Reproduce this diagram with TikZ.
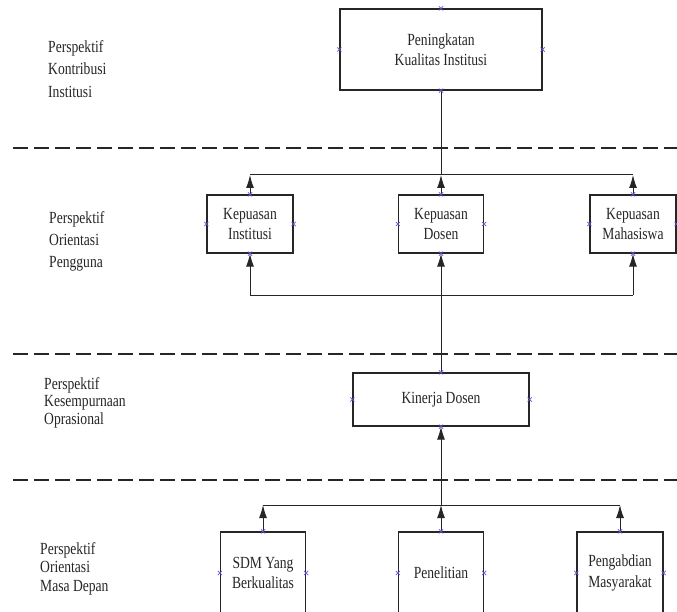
\documentclass[tikz,border=0pt]{standalone}
\usepackage{fontspec}
\newfontfamily\diafont[FakeStretch=0.8]{Liberation Serif}
\usetikzlibrary{arrows.meta,shapes.misc}
\definecolor{txt}{HTML}{262626}
\definecolor{cp}{HTML}{5A5AD8}
\newcommand\cpmarks[1]{%
  \foreach \a in {north,south,east,west}{\node[cpt] at (#1.\a) {};}}
\begin{document}
\begin{tikzpicture}[x=1pt,y=-1pt,
  every node/.style={text=txt},
  box/.style={draw=black!85, line width=1.3pt, fill=white, inner sep=0pt,
    align=center, font=\diafont\fontsize{17}{20.5}\selectfont},
  lab/.style={anchor=north west, align=left, inner sep=0pt},
  cpt/.style={draw=cp, cross out, minimum size=3.5pt, inner sep=0pt, line width=0.6pt},
  conn/.style={draw=black!85, line width=1pt},
  arr/.style={conn, -{Latex[length=13pt,width=8pt]}},
  sep/.style={draw=black!85, line width=1.4pt, dash pattern=on 15pt off 6pt}]
\useasboundingbox (0,0) rectangle (677,612);
\clip (0,0) rectangle (677,612);
\fill[white] (0,0) rectangle (677,612);
% separators
\draw[sep] (13,148) coordinate (s1a) -- (677,148) coordinate (s1b);
\draw[sep] (13,354) coordinate (s2a) -- (677,354) coordinate (s2b);
\draw[sep] (13,480) coordinate (s3a) -- (677,480) coordinate (s3b);
% hubs
\coordinate (hub1) at (441,175);
\coordinate (hub2) at (441,295);
\coordinate (hub3) at (441,505);
% boxes
\node[box, minimum width=202pt, minimum height=81pt] (top) at (441,49.5) {Peningkatan\\Kualitas Institusi};
\node[box, minimum width=86pt, minimum height=58pt] (ki) at (250,224) {Kepuasan\\Institusi};
\node[box, minimum width=85pt, minimum height=58pt] (kd) at (441,224) {Kepuasan\\Dosen};
\node[box, minimum width=86pt, minimum height=58pt] (km) at (633,224) {Kepuasan\\Mahasiswa};
\node[box, minimum width=176pt, minimum height=53pt] (kin) at (441,399.5) {Kinerja Dosen};
\node[box, minimum width=85pt, minimum height=82pt] (sdm) at (263,573) {SDM Yang\\Berkualitas};
\node[box, minimum width=85pt, minimum height=82pt] (pen) at (441,573) {Penelitian};
\node[box, minimum width=86pt, minimum height=82pt] (peng) at (620,573) {Pengabdian\\Masyarakat};
% connectors: row 2 to top
\draw[conn] (top.south) -- (hub1);
\draw[conn] (ki.north |- hub1) -- (km.north |- hub1);
\draw[arr] (ki.north) -- (ki.north |- hub1);
\draw[arr] (kd.north) -- (hub1);
\draw[arr] (km.north) -- (km.north |- hub1);
% kinerja to row 2
\draw[conn] (ki.south |- hub2) -- (km.south |- hub2);
\draw[arr] (ki.south |- hub2) -- (ki.south);
\draw[arr] (km.south |- hub2) -- (km.south);
\draw[arr] (kin.north) -- (kd.south);
% row 4 to kinerja
\draw[arr] (hub3) -- (kin.south);
\draw[conn] (sdm.north |- hub3) -- (peng.north |- hub3);
\draw[arr] (sdm.north) -- (sdm.north |- hub3);
\draw[arr] (pen.north) -- (hub3);
\draw[arr] (peng.north) -- (peng.north |- hub3);
% connection point marks
\cpmarks{top}\cpmarks{ki}\cpmarks{kd}\cpmarks{km}\cpmarks{kin}\cpmarks{sdm}\cpmarks{pen}\cpmarks{peng}
% labels
\node[lab, font=\diafont\fontsize{17}{22.5}\selectfont] (l1) at (48,40) {Perspektif\\Kontribusi\\Institusi};
\node[lab, font=\diafont\fontsize{17}{22}\selectfont] (l2) at (49,211) {Perspektif\\Orientasi\\Pengguna};
\node[lab, font=\diafont\fontsize{17}{17.5}\selectfont] (l3) at (44,377) {Perspektif\\Kesempurnaan\\Oprasional};
\node[lab, font=\diafont\fontsize{17}{18.5}\selectfont] (l4) at (40,542) {Perspektif\\Orientasi\\Masa Depan};
\end{tikzpicture}
\end{document}
